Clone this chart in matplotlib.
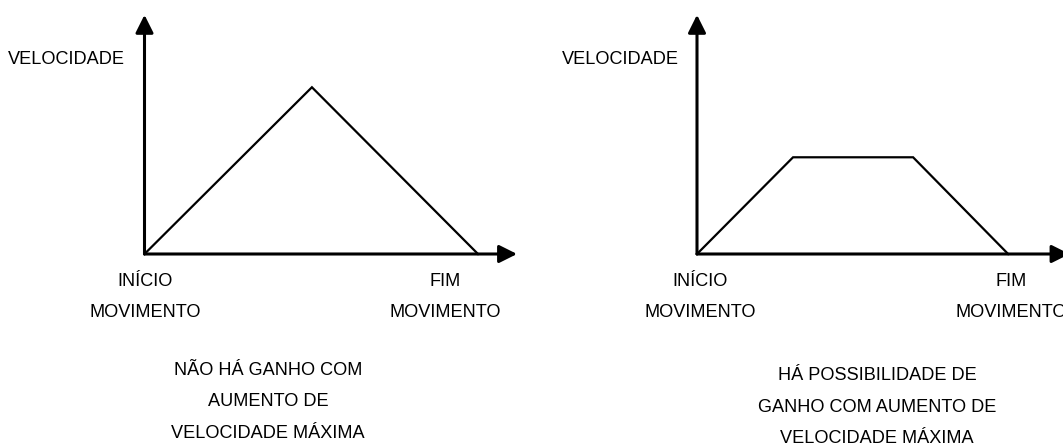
import matplotlib
matplotlib.use("Agg")
import matplotlib.pyplot as plt

plt.rcParams["font.family"] = ["Liberation Sans", "DejaVu Sans"]

# velocity profiles (time, velocity) in arbitrary units
tri_t = [0, 5.02, 10.0]
tri_v = [0, 5.0, 0]
trap_t = [0, 2.88, 6.48, 9.33]
trap_v = [0, 2.9, 2.9, 0]

y_label = "VELOCIDADE"
start_label = "INÍCIO\n\nMOVIMENTO"
end_label = "FIM\n\nMOVIMENTO"
left_note = "NÃO HÁ GANHO COM\n\nAUMENTO DE\n\nVELOCIDADE MÁXIMA"
right_note = "HÁ POSSIBILIDADE DE\n\nGANHO COM AUMENTO DE\n\nVELOCIDADE MÁXIMA"

W, H = 1063, 447
scale = 33.35  # pixels per data unit
fig = plt.figure(figsize=(W / 100, H / 100), dpi=100)


def panel(x0, x1, ox, oy, t, v):
    ax = fig.add_axes([x0 / W, 0, (x1 - x0) / W, 1])
    ax.set_xlim((x0 - ox) / scale, (x1 - ox) / scale)
    ax.set_ylim((oy - H) / scale, oy / scale)
    ax.axis("off")
    arrow = dict(arrowstyle="-|>", lw=2.2, color="k", mutation_scale=27,
                 shrinkA=0, shrinkB=0)
    ax.annotate("", xy=(0, 7.17), xytext=(0, 0), arrowprops=arrow,
                annotation_clip=False)
    ax.annotate("", xy=(11.17, 0), xytext=(0, 0), arrowprops=arrow,
                annotation_clip=False)
    ax.plot(t, v, color="k", lw=1.6, solid_joinstyle="miter")
    return ax


panel(0, 531, 144.5, 254, tri_t, tri_v)
panel(531, W, 697, 254, trap_t, trap_v)

fs = 13.1


def txt(x, y, s, ha="center"):
    fig.text(x / W, 1 - y / H, s, ha=ha, va="center", fontsize=fs,
             linespacing=0.91)


txt(8, 60, y_label, ha="left")
txt(562, 60, y_label, ha="left")
txt(145, 297, start_label)
txt(445, 297, end_label)
txt(700, 297, start_label)
txt(1011, 297, end_label)
txt(268, 402, left_note)
txt(877, 407, right_note)

fig.savefig("out.png", dpi=100)
